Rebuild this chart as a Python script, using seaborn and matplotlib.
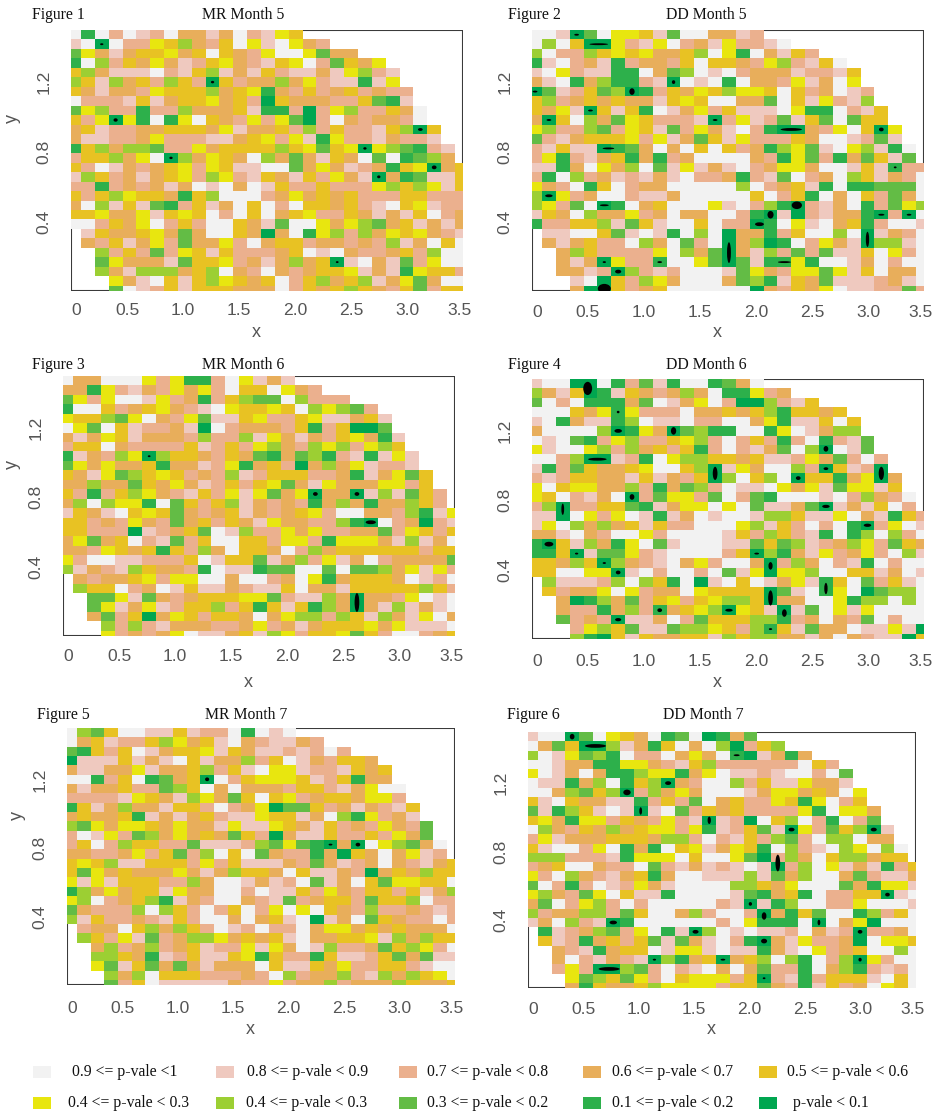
import numpy as np
import pandas as pd
import matplotlib
matplotlib.use("Agg")
import matplotlib.pyplot as plt
from matplotlib.colors import ListedColormap
from matplotlib.patches import Rectangle, Ellipse
from matplotlib.transforms import ScaledTranslation
import seaborn as sns

# each digit is the p-value class of one cell, '.' is no data
fig1_rows = [
    "91979879668697845", "8909774536759489467", "246865546595674994266",
    "19375646875467854972564", "536888978538685788684378", "358365735705766364788184",
    "5686674555365416757657677", "9777858655465705666775218", "24377177366658117074377569",
    "57404191495674742079676679", "658776655564866573757785305", "688776477788654748147786778",
    "1536332774655553542540432178", "7553649036456936268569291236", "57986765474588992646876154065",
    "83576865473478568574680612885", "77176768698969857757774353485", "57534556153999764656577755777",
    "69385821758695979556578954877", "55466485459795965477568685976", "99756497579956829946432658686",
    ".8566546269956069143736454678", ".6758647266479655766767386959", "..375727458577765989677657399",
    "..246668255476863650896827499", "..368333653967967655486814557", "...46895853456597536538642699",
    "...29875855566697565356752755",
]
fig2_rows = [
    "99802944582996687", "9395004784976847789", "397735454665394196857",
    "18976817667595567437859", "894788119623989766687785", "689163117809891966748694",
    "0287523017564534459576987", "5376565668545996629584783", "56480585198647588894119785",
    "60593624577780748728529255", "437732745827468971006749504", "278655547486258477756998728",
    "7858801269695957613428943819", "7417865161769999671427162582", "88169463928486897644699858177",
    "71937687868977617829769358679", "46791597669999939765819112229", "30476997886999995975196957269",
    "34729019659994897310786917243", "85693664769669971080786610709", "17755382589959770194896517998",
    ".8899528981939066175993908679", ".6865779369279063019746803389", "..635777749362068372728859479",
    "..686047719942028114199869799", "..668703787999824674424859669", "...89057346999623185628887689",
    "...60057659999990675649887727",
]
fig3_rows = [
    "96699947411794868", "6614786746479559467", "247499847617532293777",
    "19957654678945545934327", "455324967428854775488658", "942958776809766675175002",
    "6864586667377384686754618", "7559677775875743673437435", "18673403556756216231781848",
    "24646651668741657063648778", "568423545767387555776186425", "663662564687575426846664475",
    "5717534678574842640660838257", "6393441925753867671636166357", "85689545267658676547996673184",
    "55767467265756846677310976078", "55777087652983774647766274575", "64265978275995574471444683869",
    "66745651573695569736555555755", "47998877759855286374869766662", "38678356671988122992922364847",
    ".6766547449969976941655569879", ".3559769858867885966855555357", "..224826765554427883606674989",
    "..248648755375158513606838689", "..627506457556964337358368496", "...37378666776476865554648889",
    "...47676498865834755425799765",
]
fig4_rows = [
    "89900917281991269", "3685018567636911476", "297911162986497003785",
    "99956414777966565315565", "891688139889779964188595", "699993014602311991498633",
    "9892174377543797571791782", "4899437365751797862930982", "99730087194335565887462797",
    "81725665499530846993705870", "787556685867503953905516406", "495446637162379889464824485",
    "4597869072447297219998973679", "7307755218644949288620868597", "88094749818698998335884968157",
    "84936365857799943857979107498", "66896799479999857357819139379", "10583614928999882523876347256",
    "11508224789999750316847647938", "55635036789647996073697819799", "55994408979979284044399558698",
    ".3888739351908959864815927589", ".5766494766945555028914902339", "..601362754754335066994133939",
    "..677163716543045808294849999", "..276708869725553317696729799", "...74352882334573158266988480",
    "...31058566558353366869678805",
]
fig5_rows = [
    "93259988587791989", "9658775346589678867", "215759865548568878797",
    "08885868958663759867556", "688664866537589448778565", "991759126509754445875166",
    "6866577235969666755786499", "7777845683462595476556447", "15863668557976402257686785",
    "65665186865788455869314768", "324644564668488456857674672", "798472364656257068857757462",
    "7597355772888732421060943269", "6677647527395926771605696487", "54538855574758886726876967865",
    "52465666468635569588670656355", "48485557736998687928695244559", "13646558466997988574675575863",
    "43976531867996782765572553977", "26777393579759749495673776787", "38577678579969658908692567797",
    ".7669536357987977964465656669", ".3574827633465658966554836355", "..637637658774846983776253479",
    "..335618758854157715887526288", "..428526268666958856477557899", "...36395557776793766378363549",
    "...27598888867747663766635665",
]
fig6_rows = [
    "89902945691290162", "9625003861596930753", "398423197796469108616",
    "99866114467853777777957", "498696113441649887899792", "988163915306799375884668",
    "9963253073646999864465694", "5895668817572965774514975", "28135898089275657777419446",
    "54614475674780870953971972", "936756365447418752804725308", "748666555633797857327933966",
    "5899749161954864519378934939", "3337778144495994207369533655", "76599677927868789807394868175",
    "47936786516998883826399627886", "29717987468999933564999261448", "43672495881999982165197755089",
    "62974379799999780813997749998", "37663372599637997061529913759", "86937801999999794111909640999",
    ".1876327491803989887968707769", ".5871657528268971068477609445", "..678165598448988168947659939",
    "..697867803165065393197304799", "..747003279789696277196317879", "...42352479544475078175558959",
    "...61566534444755267185769459",
]

# small black contour blobs: column, row, half width, half height (in cells)
fig1_marks = [(2, 1, .05, 0), (10, 5, .05, .03), (3, 9, .08, .08), (25, 10, .1, .05), (21, 12, .05, .03),
              (7, 13, .05, .03), (26, 14, .1, .1), (22, 15, .05, .05), (19, 24, .03, 0)]
fig2_marks = [(3, 0, .1, 0), (4.6, 1, .6, 0), (10, 5, .05, .1), (0, 6, .1, 0), (7, 6, .12, .25), (4, 8, .1, 0),
              (1, 9, .1, 0), (13, 9, .1, 0), (18.5, 10, .7, .05), (25, 10, .1, .1), (5.3, 12, .35, 0), (26, 14, .03, 0),
              (1, 17, .2, .05), (5, 18, .25, 0), (18.9, 18, .3, .3), (25, 19, .15, 0), (27, 19, .1, 0), (16.2, 20, .25, .1),
              (17, 19, .15, .3), (24, 21.6, .05, .7), (14, 23, .07, 1), (5, 24, .05, 0), (9, 24, .1, 0), (18, 24, .4, 0),
              (6, 25, .15, .1), (5, 26.8, .4, .4)]
fig3_marks = [(6, 8, .03, 0), (18, 12, .1, .1), (21, 12, .1, .1), (22, 15, .3, .1), (21, 23.5, .1, .9)]
fig4_marks = [(3.8, .5, .25, .6), (6, 3, .03, .03), (6, 5, .2, .1), (10, 5, .12, .3), (2, 13.3, .03, .5), (4.5, 8, .6, .05),
              (13, 9.5, .1, .6), (25, 9.5, .12, .6), (21, 9, .1, .05), (19, 10, .1, .1), (21, 6.9, .1, .2), (7, 12, .1, .2),
              (21, 13, .2, .07), (24, 15, .2, .07), (1, 17, .25, .15), (3, 18, .05, 0), (5, 19, .05, 0), (16, 18, .1, 0),
              (17, 19.3, .08, .3), (6, 20, .1, .1), (21, 21.7, .05, .5), (17, 22.7, .1, .7), (9, 24, .1, .1), (14, 24, .2, .05),
              (18, 24.3, .1, .3), (6, 25, .15, .07), (17, 26, .05, 0)]
fig5_marks = [(10, 5, .08, .1), (19, 12, .07, 0), (21, 12, .1, .1)]
fig6_marks = [(3, 0, .1, .2), (4.7, 1, .7, .1), (15, 2, .15, 0), (10, 5, .15, .1), (7, 6, .2, .2), (8, 8, .03, .3),
              (13, 9, .05, .3), (19, 10, .15, .1), (25, 10, .15, .1), (18, 13.6, .1, .8), (26, 17, .1, .1), (16, 18, .05, .1),
              (6, 20, .2, .1), (17, 19.3, .1, .3), (21, 20, .03, .2), (12, 21, .15, .1), (24, 21, .1, .1), (17, 22, .15, .15),
              (24, 24, .05, .1), (9, 24, .05, 0), (14, 24, .1, 0), (5.7, 25, .7, .1), (17, 26, .03, 0)]

fig_names = ["Figure 1", "Figure 2", "Figure 3", "Figure 4", "Figure 5", "Figure 6"]
titles = ["MR Month 5", "DD Month 5", "MR Month 6", "DD Month 6", "MR Month 7", "DD Month 7"]
x_ticks = [0, 0.5, 1.0, 1.5, 2.0, 2.5, 3.0, 3.5]
x_labels = ["0", "0.5", "1.0", "1.5", "2.0", "2.5", "3.0", "3.5"]
y_ticks = [0.2, 0.4, 0.6, 0.8, 1.0, 1.2, 1.4]
y_labels = ["", "0.4", "", "0.8", "", "1.2", ""]

# class 0 is p < 0.1, class 9 is 0.9 to 1
class_colors = ["#00A650", "#2DB04B", "#63BC45", "#9CCF33", "#E8E60F",
                "#E8C223", "#E8AE5B", "#EBB08E", "#EFC9BF", "#F2F2F2"]
legend_labels = ["0.9 <= p-vale <1", "0.8 <= p-vale < 0.9", "0.7 <= p-vale < 0.8",
                 "0.6 <= p-vale < 0.7", "0.5 <= p-vale < 0.6", "0.4 <= p-vale < 0.3",
                 "0.4 <= p-vale < 0.3", "0.3 <= p-vale < 0.2", "0.1 <= p-vale < 0.2", "p-vale < 0.1"]
legend_classes = [9, 8, 7, 6, 5, 4, 3, 2, 1, 0]

W, H = 936, 1114
N_COLS = 29
X_LO, X_HI = 0.28, 28.58   # first and last columns are cut by the frame
Y_BOTTOM = 27.55
Y_MAX = 1.5


def parse_rows(rows):
    grid = np.full((len(rows), N_COLS), np.nan)
    for i, row in enumerate(rows):
        for j, ch in enumerate(row[:N_COLS]):
            if ch != ".":
                grid[i, j] = int(ch)
    return pd.DataFrame(grid)


def draw_panel(fig, rows, marks, box, name, name_xy, title, title_xy, tick_pad, xlabel_y, ylabel_x=None):
    left, top, right, bottom = box
    ax = fig.add_axes([left / W, 1 - bottom / H, (right - left) / W, (bottom - top) / H])
    sns.heatmap(parse_rows(rows), cmap=ListedColormap(class_colors), vmin=-0.5, vmax=9.5,
                cbar=False, xticklabels=False, yticklabels=False, ax=ax)
    ax.set_xlim(X_LO, X_HI)
    ax.set_ylim(Y_BOTTOM, 0)

    for c, r, hw, hh in marks:
        ax.add_patch(Ellipse((c + .5, r + .5), 2 * hw + .14, 2 * hh + .2, facecolor="black",
                             edgecolor="none", zorder=3))

    # frame sits under the cells so only the empty corners show it
    for spine in ax.spines.values():
        spine.set_visible(True)
        spine.set_color("#3a3a3a")
        spine.set_linewidth(1.5)
        spine.set_zorder(0.5)
        spine.set_clip_on(True)
        spine.set_clip_box(ax.bbox)

    ax.set_xticks([X_LO + v / 3.5 * (X_HI - X_LO) for v in x_ticks])
    ax.set_xticklabels(x_labels, fontsize=12.6, color="#555555")
    ax.set_yticks([Y_BOTTOM * (1 - v / Y_MAX) for v in y_ticks])
    ax.set_yticklabels(y_labels, fontsize=12.6, color="#555555", rotation=90, va="center")
    ax.tick_params(axis="x", length=2.5, width=0.8, color="#333333", pad=tick_pad, rotation=0)
    ax.tick_params(axis="y", length=3, width=0.8, color="#333333", pad=11)

    tick_text = ax.get_xticklabels()
    for lab, dx in ((tick_text[0], 5.5), (tick_text[-1], -3)):
        lab.set_transform(lab.get_transform() + ScaledTranslation(dx / 100, 0, fig.dpi_scale_trans))

    ax.set_xlabel("x", fontsize=13, color="#555555")
    ax.xaxis.set_label_coords(0.473, -(xlabel_y - bottom - 8) / (bottom - top))
    if ylabel_x is not None:
        ax.set_ylabel("y", fontsize=13, color="#555555")
        ax.yaxis.set_label_coords((ylabel_x - left) / (right - left), 0.66)
    else:
        ax.set_ylabel("")

    fig.text(name_xy[0] / W, 1 - name_xy[1] / H, name, family="Liberation Serif", fontsize=11.3,
             ha="left", va="center", color="#111111")
    fig.text(title_xy[0] / W, 1 - title_xy[1] / H, title, family="Liberation Serif", fontsize=11.3,
             ha="center", va="center", color="#111111")
    return ax


sns.set_style("white")
plt.rcParams["font.family"] = ["Liberation Sans", "DejaVu Sans"]

fig = plt.figure(figsize=(W / 100, H / 100), dpi=100)

draw_panel(fig, fig1_rows, fig1_marks, (71, 30, 463, 291), fig_names[0], (32, 15), titles[0], (243, 15), 6, 332, 21)
draw_panel(fig, fig2_rows, fig2_marks, (532, 30, 924, 291), fig_names[1], (508, 15), titles[1], (706, 15), 7.4, 332)
draw_panel(fig, fig3_rows, fig3_marks, (63, 376, 455, 636), fig_names[2], (32, 365), titles[2], (243, 365), 6.7, 682, 21)
draw_panel(fig, fig4_rows, fig4_marks, (532, 379, 924, 639), fig_names[3], (508, 365), titles[3], (706, 365), 8.2, 682)
draw_panel(fig, fig5_rows, fig5_marks, (67, 728, 455, 985), fig_names[4], (37, 715), titles[4], (246, 715), 9, 1029, 26)
draw_panel(fig, fig6_rows, fig6_marks, (528, 732, 916, 988), fig_names[5], (507, 715), titles[5], (703, 715), 7.4, 1029)

# legend drawn by hand, two rows of five
swatch_x = [33, 216, 399, 583, 759]
text_x = [72, 247, 427, 612, 787, 68, 246, 427, 612, 793]
for i, (label, cls) in enumerate(zip(legend_labels, legend_classes)):
    row_y = 1072 if i < 5 else 1103
    sx = swatch_x[i % 5]
    fig.add_artist(Rectangle((sx / W, 1 - (row_y + 6) / H), 18 / W, 12 / H, transform=fig.transFigure,
                             facecolor=class_colors[cls], edgecolor="none"))
    fig.text(text_x[i] / W, 1 - row_y / H, label, family="Liberation Serif", fontsize=11.3,
             ha="left", va="center", color="#111111")

fig.savefig("out.png", dpi=100)
plt.close(fig)
